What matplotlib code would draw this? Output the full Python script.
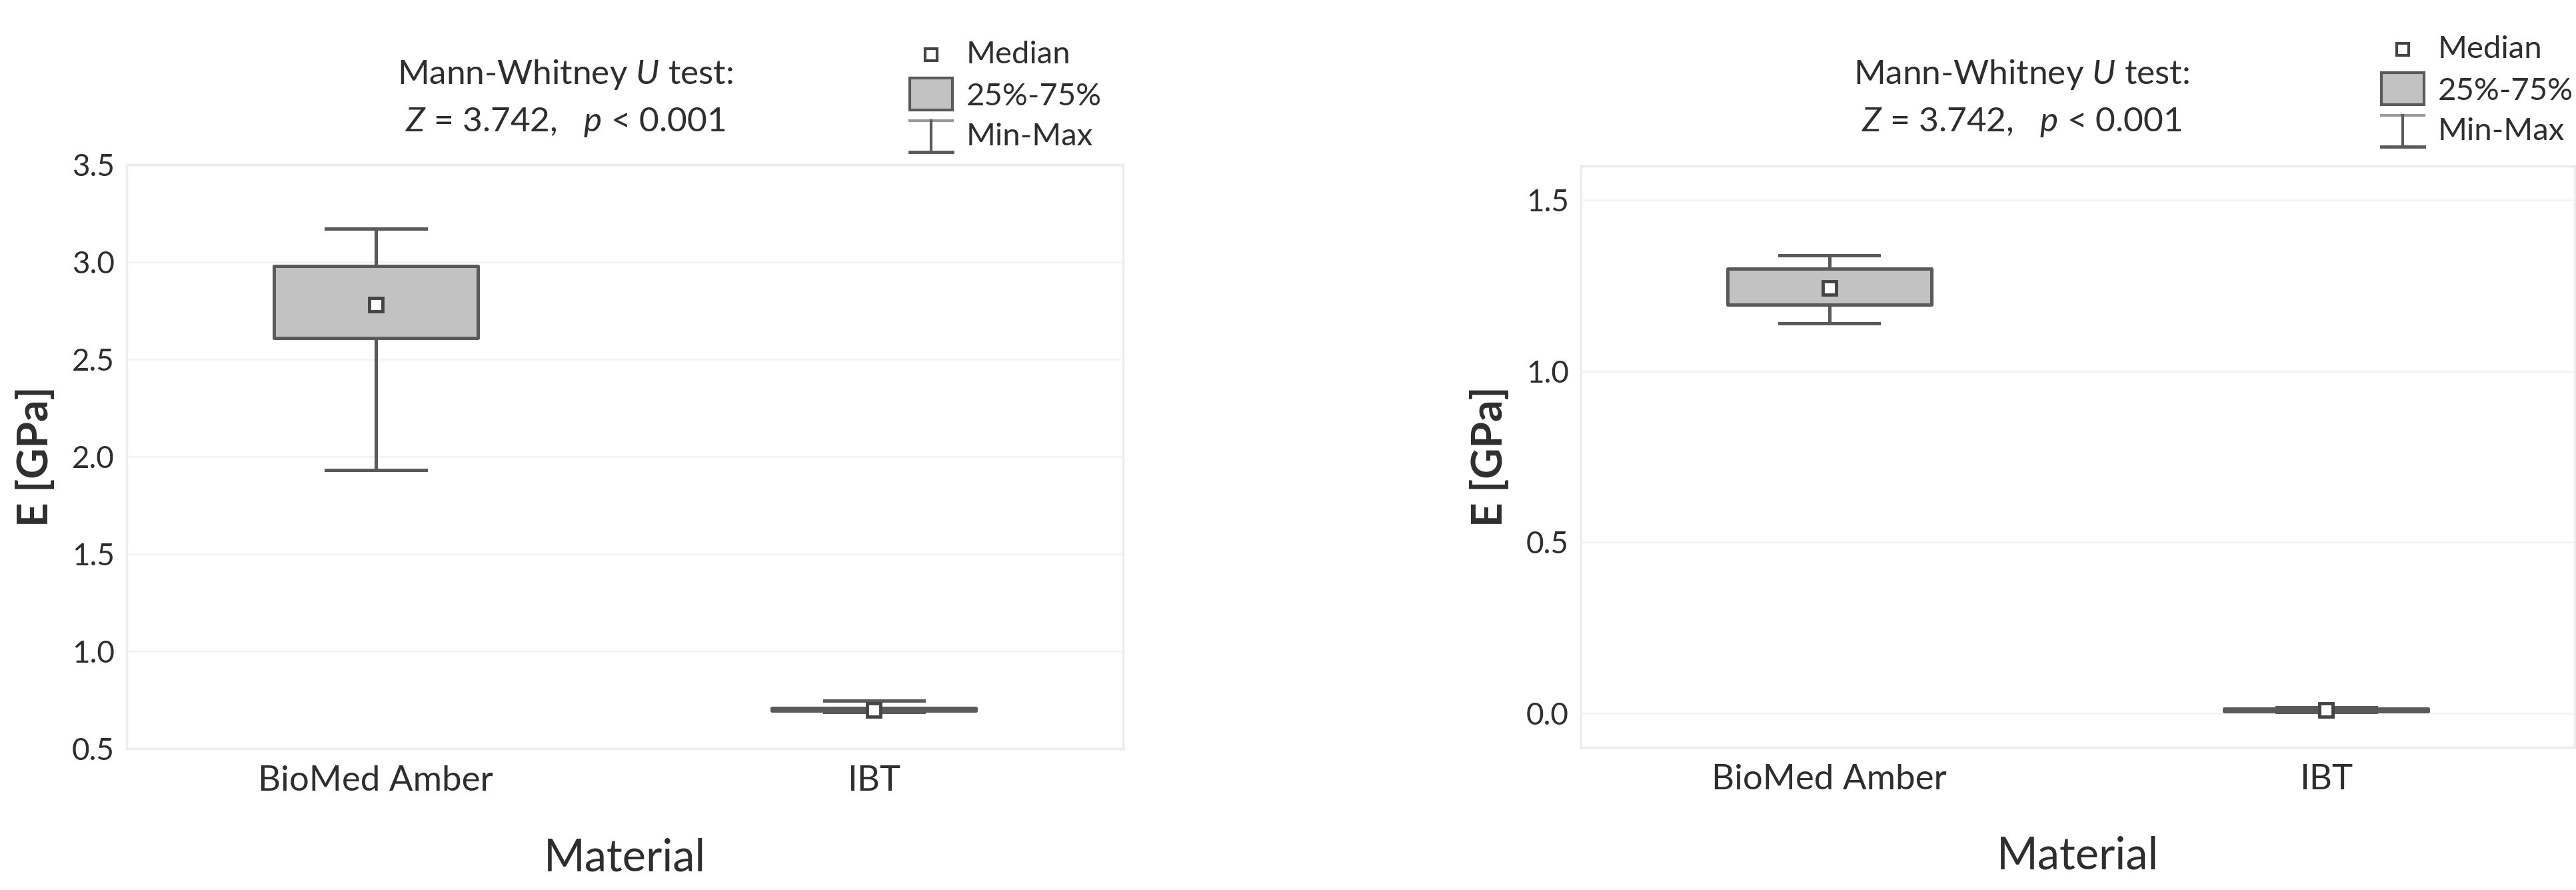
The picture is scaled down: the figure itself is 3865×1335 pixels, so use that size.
import matplotlib
matplotlib.use("Agg")
import matplotlib.pyplot as plt
from matplotlib.patches import Rectangle
from matplotlib.lines import Line2D

# =============================
# Data
# =============================

materials = ["BioMed Amber", "IBT"]

# left panel
left_min = [1.93, 0.69]
left_q1 = [2.61, 0.695]
left_med = [2.78, 0.70]
left_q3 = [2.98, 0.71]
left_max = [3.17, 0.745]
left_ticks = [0.5, 1.0, 1.5, 2.0, 2.5, 3.0, 3.5]

# right panel
right_min = [1.14, 0.004]
right_q1 = [1.195, 0.006]
right_med = [1.243, 0.010]
right_q3 = [1.30, 0.013]
right_max = [1.338, 0.016]
right_ticks = [0.0, 0.5, 1.0, 1.5]

test_line1 = "Mann-Whitney $U$ test:"
test_line2 = "$Z$ = 3.742,   $p$ < 0.001"
legend_labels = ["Median", "25%-75%", "Min-Max"]

# =============================
# Style
# =============================

W, H = 3866, 1335
DPI = 100
plt.rcParams["font.family"] = ["Lato", "DejaVu Sans"]
plt.rcParams["mathtext.fontset"] = "custom"
plt.rcParams["mathtext.rm"] = "Lato"
plt.rcParams["mathtext.it"] = "Lato:italic"

TXT = "#2e2e2e"
EDGE = "#5a5a5a"
FILL = "#c2c2c2"
FRAME = "#ededed"
GRID = "#f4f4f4"
LW = 3.6

fig = plt.figure(figsize=(W / DPI, H / DPI), dpi=DPI)


def fx(x):
    return x / W


def fy(y):
    return 1 - y / H


def panel(rect, mins, q1s, meds, q3s, maxs, ylim, ticks, title_x, leg_x, leg_dy):
    ax = fig.add_axes(rect)
    stats = []
    for i in range(len(materials)):
        stats.append(dict(med=meds[i], q1=q1s[i], q3=q3s[i],
                          whislo=mins[i], whishi=maxs[i], label=materials[i]))
    ax.bxp(stats, positions=range(len(materials)), widths=0.41,
           capwidths=0.2, patch_artist=True, showfliers=False,
           boxprops=dict(facecolor=FILL, edgecolor=EDGE, linewidth=LW,
                         joinstyle="round"),
           whiskerprops=dict(color=EDGE, linewidth=LW),
           capprops=dict(color=EDGE, linewidth=LW),
           medianprops=dict(linewidth=0))
    ax.plot(range(len(materials)), meds, ls="none", marker="s", ms=15,
            mfc="white", mec="#444444", mew=3.5, zorder=5)

    ax.set_xlim(-0.5, 1.5)
    ax.set_ylim(*ylim)
    ax.set_yticks(ticks)
    ax.set_yticklabels([f"{t:.1f}" for t in ticks])
    ax.yaxis.grid(True, color=GRID, linewidth=2)
    ax.set_axisbelow(True)
    for s in ax.spines.values():
        s.set_color(FRAME)
        s.set_linewidth(2.5)
    ax.tick_params(axis="y", length=0, pad=13, labelsize=33, labelcolor=TXT)
    ax.tick_params(axis="x", length=0, pad=18, labelsize=38, labelcolor=TXT)

    ax.set_xlabel("Material", fontsize=48, color=TXT)
    ax.set_ylabel("E [GPa]", fontsize=46, color=TXT, fontweight="bold")

    # titles with the test result
    fig.text(fx(title_x), fy(112), test_line1, ha="center", va="center",
             fontsize=37, color=TXT)
    fig.text(fx(title_x), fy(183), test_line2, ha="center", va="center",
             fontsize=37, color=TXT)

    # legend drawn by hand
    cx = leg_x
    fig.add_artist(Line2D([fx(cx)], [fy(82 + leg_dy)], marker="s", ms=13,
                          mfc="white", mec="#444444", mew=3, ls="none"))
    fig.add_artist(Rectangle((fx(cx - 32), fy(165 + leg_dy)),
                             64 / W, 48 / H, transform=fig.transFigure,
                             facecolor=FILL, edgecolor=EDGE, linewidth=3))
    fig.add_artist(Line2D([fx(cx - 32), fx(cx + 32)], [fy(181 + leg_dy)] * 2,
                          color="#9a9a9a", linewidth=3))
    fig.add_artist(Line2D([fx(cx), fx(cx)],
                          [fy(181 + leg_dy), fy(228 + leg_dy)],
                          color=EDGE, linewidth=3))
    fig.add_artist(Line2D([fx(cx - 32), fx(cx + 32)], [fy(228 + leg_dy)] * 2,
                          color=EDGE, linewidth=3.5))
    for lab, yy in zip(legend_labels, [82, 145, 205]):
        fig.text(fx(cx + 53), fy(yy + leg_dy), lab, ha="left", va="center",
                 fontsize=34, color=TXT)
    return ax


ax1 = panel([fx(190), fy(1123), (1685 - 190) / W, (1123 - 247) / H],
            left_min, left_q1, left_med, left_q3, left_max,
            (0.5, 3.5), left_ticks, 848, 1397, 0)
ax2 = panel([fx(2372), fy(1121), (3863 - 2372) / W, (1121 - 249) / H],
            right_min, right_q1, right_med, right_q3, right_max,
            (-0.1, 1.6), right_ticks, 3033, 3605, -8)

for ax in (ax1, ax2):
    ax.xaxis.set_label_coords(0.5, -0.188)
    ax.xaxis.label.set_va("center")
    ax.yaxis.set_label_coords(-0.092, 0.5)
    ax.yaxis.label.set_va("center")

fig.savefig("out.png", dpi=DPI, facecolor="white")
